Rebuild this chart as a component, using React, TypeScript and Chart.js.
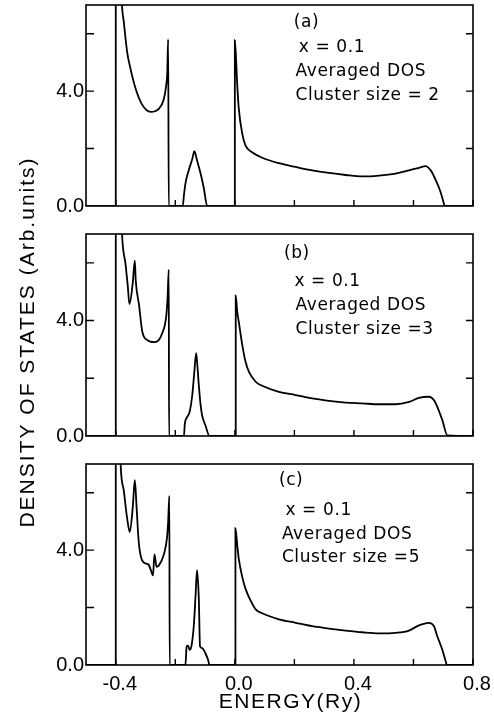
import React, { useEffect, useRef } from 'react';
import { Chart, registerables } from 'chart.js';

Chart.register(...registerables);

// ---------------- data ----------------
const ENERGY_A = [-0.5, -0.4, -0.4, -0.385, -0.379, -0.373, -0.362, -0.351, -0.334, -0.312, -0.283, -0.268, -0.255, -0.239, -0.231, -0.227, -0.224, -0.222, -0.175, -0.171, -0.166, -0.155, -0.143, -0.136, -0.127, -0.115, -0.104, -0.093, 0.0, 0.0, 0.008, 0.013, 0.025, 0.036, 0.058, 0.092, 0.148, 0.204, 0.26, 0.316, 0.372, 0.428, 0.484, 0.54, 0.585, 0.618, 0.641, 0.658, 0.675, 0.691, 0.702, 0.705, 0.8];
const DOS_A = [0, 0, 9, 9, 7.0, 6.41, 5.38, 4.8, 4.11, 3.54, 3.28, 3.3, 3.39, 3.71, 4.17, 4.63, 5.8, 0, 0, 0.38, 0.78, 1.24, 1.64, 1.91, 1.59, 1.13, 0.61, 0, 0, 5.78, 4.23, 3.42, 2.51, 2.1, 1.87, 1.68, 1.49, 1.36, 1.24, 1.15, 1.08, 1.03, 1.06, 1.13, 1.24, 1.33, 1.39, 1.24, 0.9, 0.49, 0.09, 0, 0];

const ENERGY_B = [-0.5, -0.4, -0.4, -0.385, -0.379, -0.367, -0.36, -0.354, -0.343, -0.336, -0.333, -0.322, -0.311, -0.295, -0.27, -0.255, -0.244, -0.235, -0.23, -0.226, -0.222, -0.221, -0.171, -0.168, -0.16, -0.152, -0.143, -0.136, -0.13, -0.126, -0.121, -0.115, -0.11, -0.099, -0.085, 0.003, 0.003, 0.008, 0.013, 0.025, 0.036, 0.047, 0.07, 0.092, 0.148, 0.204, 0.26, 0.316, 0.372, 0.428, 0.484, 0.54, 0.585, 0.618, 0.652, 0.669, 0.68, 0.697, 0.714, 0.8];
const DOS_B = [0, 0, 9, 9, 7.0, 5.94, 5.24, 4.57, 5.3, 6.08, 5.4, 4.55, 3.62, 3.33, 3.25, 3.33, 3.56, 3.85, 4.2, 4.78, 5.76, 0, 0, 0.43, 0.66, 0.83, 1.42, 2.23, 2.87, 2.46, 1.76, 1.07, 0.72, 0.37, 0, 0, 4.86, 4.31, 3.97, 3.15, 2.57, 2.23, 1.88, 1.74, 1.53, 1.42, 1.3, 1.22, 1.16, 1.13, 1.1, 1.1, 1.18, 1.32, 1.36, 1.24, 1.01, 0.55, 0.02, 0];

const ENERGY_C = [-0.5, -0.4, -0.4, -0.388, -0.384, -0.373, -0.362, -0.353, -0.343, -0.336, -0.33, -0.323, -0.312, -0.298, -0.29, -0.282, -0.275, -0.27, -0.263, -0.255, -0.239, -0.228, -0.224, -0.22, -0.219, -0.166, -0.162, -0.157, -0.152, -0.146, -0.138, -0.132, -0.127, -0.121, -0.117, -0.11, -0.099, -0.09, -0.085, 0.002, 0.002, 0.008, 0.013, 0.025, 0.036, 0.053, 0.07, 0.092, 0.148, 0.204, 0.26, 0.316, 0.372, 0.428, 0.484, 0.54, 0.585, 0.618, 0.652, 0.669, 0.68, 0.697, 0.71, 0.712, 0.8];
const DOS_C = [0, 0, 9, 9, 7.07, 6.07, 5.12, 4.63, 5.48, 6.44, 5.48, 4.3, 3.65, 3.53, 3.5, 3.3, 3.12, 3.85, 3.42, 3.47, 3.83, 4.42, 5.0, 5.89, 0, 0, 0.65, 0.67, 0.53, 0.65, 1.35, 2.41, 3.3, 2.3, 0.65, 0.59, 0.41, 0.18, 0, 0, 4.77, 4.18, 3.71, 3.06, 2.65, 2.24, 1.94, 1.8, 1.59, 1.47, 1.35, 1.27, 1.2, 1.14, 1.1, 1.12, 1.2, 1.38, 1.47, 1.35, 1.0, 0.53, 0.06, 0, 0];

const PANEL_TAGS = ['(a)', '(b)', '(c)'];
const CONCENTRATION_TEXT = 'x = 0.1';
const DOS_TEXT = 'Averaged DOS';
const CLUSTER_TEXTS = ['Cluster size = 2', 'Cluster size =3', 'Cluster size =5'];
const X_TITLE = 'ENERGY(Ry)';
const Y_TITLE = 'DENSITY OF STATES (Arb.units)';

const X_TICK_VALUES = [-0.4, -0.2, 0, 0.2, 0.4, 0.6, 0.8];
const X_TICK_LABELS = ['-0.4', '', '0.0', '', '0.4', '', '0.8'];
const Y_TICK_VALUES = [0, 2, 4, 6];
const Y_TICK_LABELS = ['0.0', '', '4.0', ''];

const X_MIN = -0.5;
const X_MAX = 0.8;
const Y_MIN = 0;
const Y_MAX = 7;

const SERIES = [
  [ENERGY_A, DOS_A],
  [ENERGY_B, DOS_B],
  [ENERGY_C, DOS_C],
];

// ---------------- layout / style ----------------
const W = 494;
const H = 719;
const PANEL_TOPS = [5, 234, 464];
const PANEL_BOTTOMS = [206, 436, 665];
const PLOT_LEFT = 86;
const PLOT_RIGHT = 473;
const X_AXIS_HEIGHT = H - PANEL_BOTTOMS[2];

// note anchors in data units (energy, dos), one per text line
const NOTE_ANCHORS = [
  [[0.198, 6.39], [0.215, 5.52], [0.204, 4.69], [0.204, 3.86]],
  [[0.165, 6.32], [0.2, 5.35], [0.204, 4.51], [0.204, 3.68]],
  [[0.148, 6.41], [0.17, 5.37], [0.158, 4.53], [0.158, 3.73]],
];

const INK = '#000';
const TICK_FONT = "'Liberation Sans', Arial, sans-serif";
const NOTE_FONT = "17px 'DejaVu Sans', sans-serif";
const TITLE_FONT = "21px 'Liberation Sans', Arial, sans-serif";

function makeDecorPlugin(i: number) {
  return {
    id: 'panelDecor' + i,
    afterDraw(chart: any) {
      const { ctx, chartArea } = chart;
      const { left, right, top, bottom } = chartArea;
      const xs = chart.scales.x;
      const ys = chart.scales.y;
      ctx.save();
      ctx.strokeStyle = INK;
      ctx.lineWidth = 1.6;
      ctx.strokeRect(left, top, right - left, bottom - top);
      ctx.lineWidth = 1.4;
      ctx.beginPath();
      X_TICK_VALUES.forEach((v) => {
        const p = xs.getPixelForValue(v);
        ctx.moveTo(p, bottom);
        ctx.lineTo(p, bottom - 6);
      });
      Y_TICK_VALUES.forEach((v) => {
        if (v === Y_MIN) return;
        const p = ys.getPixelForValue(v);
        ctx.moveTo(left, p);
        ctx.lineTo(left + 8, p);
        ctx.moveTo(right, p);
        ctx.lineTo(right - 7, p);
      });
      ctx.stroke();

      ctx.fillStyle = INK;
      ctx.font = NOTE_FONT;
      ctx.letterSpacing = '0.6px';
      ctx.textAlign = 'left';
      ctx.textBaseline = 'middle';
      const lines = [PANEL_TAGS[i], CONCENTRATION_TEXT, DOS_TEXT, CLUSTER_TEXTS[i]];
      lines.forEach((t, k) => {
        const [e, d] = NOTE_ANCHORS[i][k];
        ctx.fillText(t, xs.getPixelForValue(e), ys.getPixelForValue(d));
      });

      if (i === 2) {
        ctx.font = TITLE_FONT;
        ctx.letterSpacing = '1.5px';
        ctx.textAlign = 'center';
        ctx.textBaseline = 'middle';
        ctx.fillText(X_TITLE, (left + right) / 2 + 11, bottom + 37);

        ctx.save();
        ctx.letterSpacing = '2px';
        ctx.translate(28, 342);
        ctx.rotate(-Math.PI / 2);
        ctx.fillText(Y_TITLE, 0, 0);
        ctx.restore();
      }
      ctx.restore();
    },
  };
}

function makeConfig(i: number): any {
  const [energy, dos] = SERIES[i];
  const isLast = i === 2;
  const points = energy.map((e, k) => ({ x: e, y: dos[k] }));
  return {
    type: 'line',
    data: {
      datasets: [
        {
          data: points,
          borderColor: INK,
          borderWidth: 1.8,
          pointRadius: 0,
          cubicInterpolationMode: 'monotone',
          fill: false,
        },
      ],
    },
    options: {
      responsive: false,
      animation: false,
      devicePixelRatio: 1,
      events: [],
      layout: {
        padding: {
          top: PANEL_TOPS[i],
          bottom: isLast ? 0 : H - PANEL_BOTTOMS[i],
          left: 0,
          right: W - PLOT_RIGHT,
        },
      },
      plugins: {
        legend: { display: false },
        tooltip: { enabled: false },
        title: { display: false },
      },
      scales: {
        x: {
          type: 'linear',
          min: X_MIN,
          max: X_MAX,
          display: isLast,
          grid: { display: false, drawTicks: false },
          border: { display: false },
          afterBuildTicks: (s: any) => {
            s.ticks = X_TICK_VALUES.map((v) => ({ value: v }));
          },
          afterFit: (s: any) => {
            if (isLast) s.height = X_AXIS_HEIGHT;
            s.paddingLeft = 0;
            s.paddingRight = 0;
          },
          ticks: {
            callback: (_v: any, idx: number) => X_TICK_LABELS[idx],
            autoSkip: false,
            maxRotation: 0,
            minRotation: 0,
            padding: 7,
            labelOffset: 4,
            color: INK,
            font: { family: TICK_FONT, size: 20 },
          },
        },
        y: {
          type: 'linear',
          min: Y_MIN,
          max: Y_MAX,
          grid: { display: false, drawTicks: false },
          border: { display: false },
          afterBuildTicks: (s: any) => {
            s.ticks = Y_TICK_VALUES.map((v) => ({ value: v }));
          },
          afterFit: (s: any) => {
            s.width = PLOT_LEFT;
            s.paddingTop = 0;
            s.paddingBottom = 0;
          },
          ticks: {
            callback: (_v: any, idx: number) => Y_TICK_LABELS[idx],
            autoSkip: false,
            padding: 2,
            color: INK,
            font: { family: TICK_FONT, size: 20 },
          },
        },
      },
    },
    plugins: [makeDecorPlugin(i)],
  };
}

function Panel({ index }: { index: number }) {
  const ref = useRef<HTMLCanvasElement>(null);
  useEffect(() => {
    if (!ref.current) return;
    const chart = new Chart(ref.current, makeConfig(index));
    return () => chart.destroy();
  }, [index]);
  return (
    <canvas
      ref={ref}
      width={W}
      height={H}
      style={{ position: 'absolute', left: 0, top: 0, width: W, height: H }}
    />
  );
}

export default function App() {
  return (
    <div style={{ position: 'absolute', left: 0, top: 0, width: W, height: H, background: '#fff' }}>
      <Panel index={0} />
      <Panel index={1} />
      <Panel index={2} />
    </div>
  );
}
